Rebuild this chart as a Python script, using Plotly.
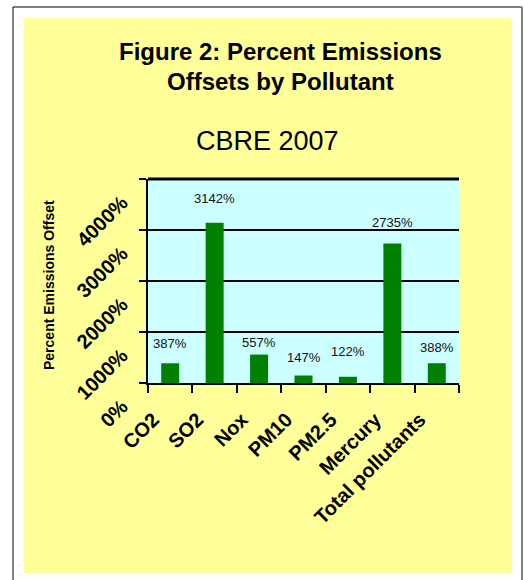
import plotly.graph_objects as go

# ---- data ----
categories = ["CO2", "SO2", "Nox", "PM10", "PM2.5", "Mercury", "Total pollutants"]
offset_pct = [387, 3142, 557, 147, 122, 2735, 388]
y_ticks = [0, 1000, 2000, 3000, 4000]
y_tick_labels = ["0%", "1000%", "2000%", "3000%", "4000%"]

# ---- style: vertical lift (px) of each value label above its bar ----
label_lift = [20, 24, 12, 18, 25, 21, 16]

FONT = "Liberation Sans, Arial, sans-serif"
W, H = 524, 580
L, R, T, B = 148, 65, 179, 197
PW, PH = W - L - R, H - T - B


def xp(px):
    return (px - L) / PW


def yp(py):
    return (H - B - py) / PH


fig = go.Figure()
fig.add_trace(go.Bar(
    x=categories, y=offset_pct,
    marker=dict(color="#008000", line=dict(width=0)),
    showlegend=False, hoverinfo="skip",
))

shapes = [
    dict(type="rect", xref="paper", yref="paper", x0=xp(24), x1=xp(512), y0=yp(573), y1=yp(18),
         fillcolor="#FFFF99", line=dict(width=0), layer="below"),
    dict(type="rect", xref="paper", yref="paper", x0=0, x1=1, y0=0, y1=1,
         fillcolor="#CCFFFF", line=dict(width=0), layer="below"),
    # top border of the plot area (the 4000% gridline at the range edge)
    dict(type="line", xref="paper", yref="paper", x0=0, x1=1, y0=1, y1=1,
         line=dict(color="black", width=3)),
    # page frame
    dict(type="line", xref="paper", yref="paper", x0=xp(13), x1=xp(13), y0=yp(7), y1=yp(600),
         line=dict(color="black", width=1)),
    dict(type="line", xref="paper", yref="paper", x0=xp(13), x1=xp(522), y0=yp(7), y1=yp(7),
         line=dict(color="black", width=1)),
    dict(type="line", xref="paper", yref="paper", x0=xp(522), x1=xp(522), y0=yp(7), y1=yp(600),
         line=dict(color="#808080", width=2)),
]

annotations = [
    dict(text="<b>Figure 2: Percent Emissions</b>", xref="paper", yref="paper", x=xp(280), y=yp(51),
         showarrow=False, xanchor="center", yanchor="middle", font=dict(family=FONT, size=24, color="black")),
    dict(text="<b>Offsets by Pollutant</b>", xref="paper", yref="paper", x=xp(280), y=yp(82),
         showarrow=False, xanchor="center", yanchor="middle", font=dict(family=FONT, size=24, color="black")),
    dict(text="CBRE 2007", xref="paper", yref="paper", x=xp(267), y=yp(141),
         showarrow=False, xanchor="center", yanchor="middle", font=dict(family=FONT, size=27, color="black")),
    dict(text="<b>Percent Emissions Offset</b>", xref="paper", yref="paper", x=xp(49), y=yp(285),
         showarrow=False, textangle=-90, xanchor="center", yanchor="middle",
         font=dict(family=FONT, size=14, color="black")),
]
for c, v, lift in zip(categories, offset_pct, label_lift):
    annotations.append(dict(text=f"{v}%", x=c, y=v, xref="x", yref="y", showarrow=False,
                            yanchor="middle", yshift=lift,
                            font=dict(family=FONT, size=13, color="#111111")))

fig.update_layout(
    width=W, height=H,
    margin=dict(l=L, r=R, t=T, b=B),
    paper_bgcolor="white", plot_bgcolor="#CCFFFF",
    bargap=0.595,
    shapes=shapes, annotations=annotations,
    font=dict(family=FONT, color="black"),
    xaxis=dict(
        type="category", showgrid=False, showline=True, linecolor="black", linewidth=2,
        ticks="outside", ticklen=8, tickwidth=2, tickcolor="black", tickson="boundaries",
        tickangle=-45, tickfont=dict(family=FONT, size=20, color="black", weight="bold"),
        ticklabelstandoff=15, ticklabelshift=-17,
    ),
    yaxis=dict(
        range=[0, 4000], tickvals=y_ticks, ticktext=y_tick_labels,
        showgrid=True, gridcolor="black", gridwidth=2, zeroline=False,
        showline=True, linecolor="black", linewidth=2,
        ticks="outside", ticklen=7, tickwidth=2, tickcolor="black",
        tickangle=-45, tickfont=dict(family=FONT, size=20, color="black", weight="bold"),
        ticklabelshift=21, ticklabelstandoff=13,
    ),
)

fig.write_html("out.html")
